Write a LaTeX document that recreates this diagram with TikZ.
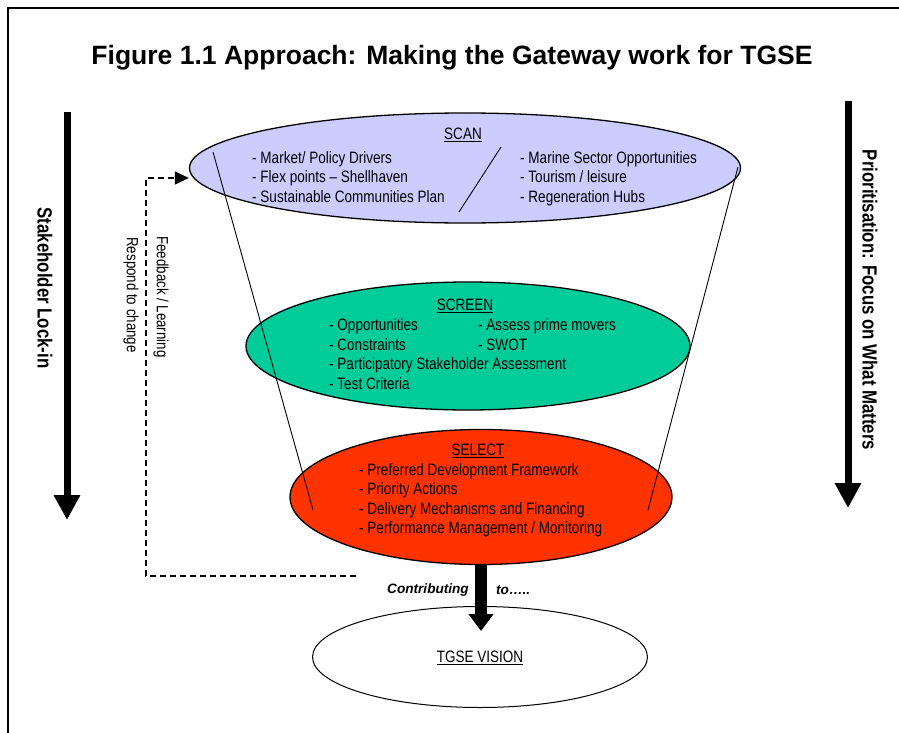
\documentclass[tikz,border=0pt]{standalone}
\usepackage{fontspec}
\setmainfont{Liberation Sans}
\newfontfamily\narrow{Liberation Sans}[FakeStretch=0.82]
\usetikzlibrary{shapes.geometric,arrows.meta}

\definecolor{scanblue}{RGB}{204,204,255}
\definecolor{screengreen}{RGB}{0,204,153}
\definecolor{selectred}{RGB}{255,51,0}

\begin{document}
\begin{tikzpicture}[x=1pt,y=1pt,
    stage/.style={draw=black,line width=1.3pt,ellipse,inner sep=0pt},
    items/.style={anchor=west,align=left,inner sep=0pt,
        font=\narrow\fontsize{16.5}{19.5}\selectfont},
    heading/.style={inner sep=0pt,font=\narrow\fontsize{16.5}{19.5}\selectfont},
    sidelabel/.style={rotate=-90,inner sep=0pt,font=\narrow\bfseries\fontsize{20.5}{24}\selectfont},
    sidearrow/.style={line width=7pt,-{Triangle[width=25pt,length=25pt]}},
    feedback/.style={dash pattern=on 6pt off 4pt,line width=1.4pt,-{Triangle[width=13pt,length=14pt]}}]
    \useasboundingbox (0,0) rectangle (899,-733);
    % page frame
    \draw [line width=2pt] (8,-733) -- (8,-8) -- (899,-8);
    \node (title) at (452,-58) {\bfseries\fontsize{26.5}{30}\selectfont Figure 1.1 Approach: Making the Gateway work for TGSE};

    % the three stages and the vision
    \node [stage,fill=scanblue,minimum width=551pt,minimum height=110pt] (scan) at (465,-168) {};
    \node [stage,fill=screengreen,minimum width=444pt,minimum height=128pt] (screen) at (468,-346) {};
    \node [stage,fill=selectred,minimum width=382pt,minimum height=135pt] (select) at (481,-497) {};
    \node [stage,fill=white,line width=1pt,minimum width=335pt,minimum height=101pt] (vision) at (480,-657) {};

    % funnel sides and the split in scan
    \draw [line width=0.9pt] (213,-152) -- (313,-510);
    \draw [line width=0.9pt] (738,-167) -- (648,-510);
    \draw [line width=0.9pt] (501,-147) -- (459,-212);

    % scan
    \node [heading] (scanhead) at (463,-135) {\underline{SCAN}};
    \node [items] (scanleft) at (252,-179) {\strut- Market/ Policy Drivers\\\strut- Flex points – Shellhaven\\\strut- Sustainable Communities Plan};
    \node [items] (scanright) at (520,-179) {\strut- Marine Sector Opportunities\\\strut- Tourism / leisure\\\strut- Regeneration Hubs};

    % screen
    \node [heading] (screenhead) at (465,-306) {\underline{SCREEN}};
    \node [items] (screenleft) at (329,-356) {\strut- Opportunities\\\strut- Constraints\\\strut- Participatory Stakeholder Assessment\\\strut- Test Criteria};
    \node [items] (screenright) at (478,-336.5) {\strut- Assess prime movers\\\strut- SWOT};

    % select
    \node [heading] (selecthead) at (478,-451) {\underline{SELECT}};
    \node [items] (selectlist) at (359,-500.5) {\strut- Preferred Development Framework\\\strut- Priority Actions\\\strut- Delivery Mechanisms and Financing\\\strut- Performance Management / Monitoring};

    % vision
    \node [heading] (visionhead) at ([yshift=-1pt]vision.center) {\underline{TGSE VISION}};

    % contributing arrow
    \coordinate (visiontip) at (481,-631);
    \draw [line width=12pt,-{Triangle[width=24pt,length=17pt]}] (select.south) -- (visiontip);
    \node [font=\bfseries\itshape\fontsize{13.6}{15}\selectfont] (contrib) at (428,-590) {Contributing};
    \node [font=\bfseries\itshape\fontsize{13.6}{15}\selectfont,anchor=west,inner sep=0pt] (contribto) at (496,-590) {to…..};

    % feedback loop
    \coordinate (fbstart) at (356,-576);
    \coordinate (fbcorner) at (146,-178);
    \draw [feedback] (fbstart) -| (fbcorner) -- (fbcorner -| scan.west);
    \node [rotate=-90,inner sep=0pt,font=\narrow\fontsize{16.2}{18}\selectfont] (fblearn) at (161,-297) {Feedback / Learning};
    \node [rotate=-90,inner sep=0pt,font=\narrow\fontsize{16.2}{18}\selectfont] (fbchange) at (131,-295) {Respond to change};

    % side arrows
    \draw [sidearrow] (67,-112) -- (67,-520);
    \node [sidelabel] (lockin) at (45,-288) {Stakeholder Lock-in};
    \draw [sidearrow] (848,-101) -- (848,-508);
    \node [sidelabel] (focus) at (870,-300) {Prioritisation: Focus on What Matters};
\end{tikzpicture}
\end{document}
